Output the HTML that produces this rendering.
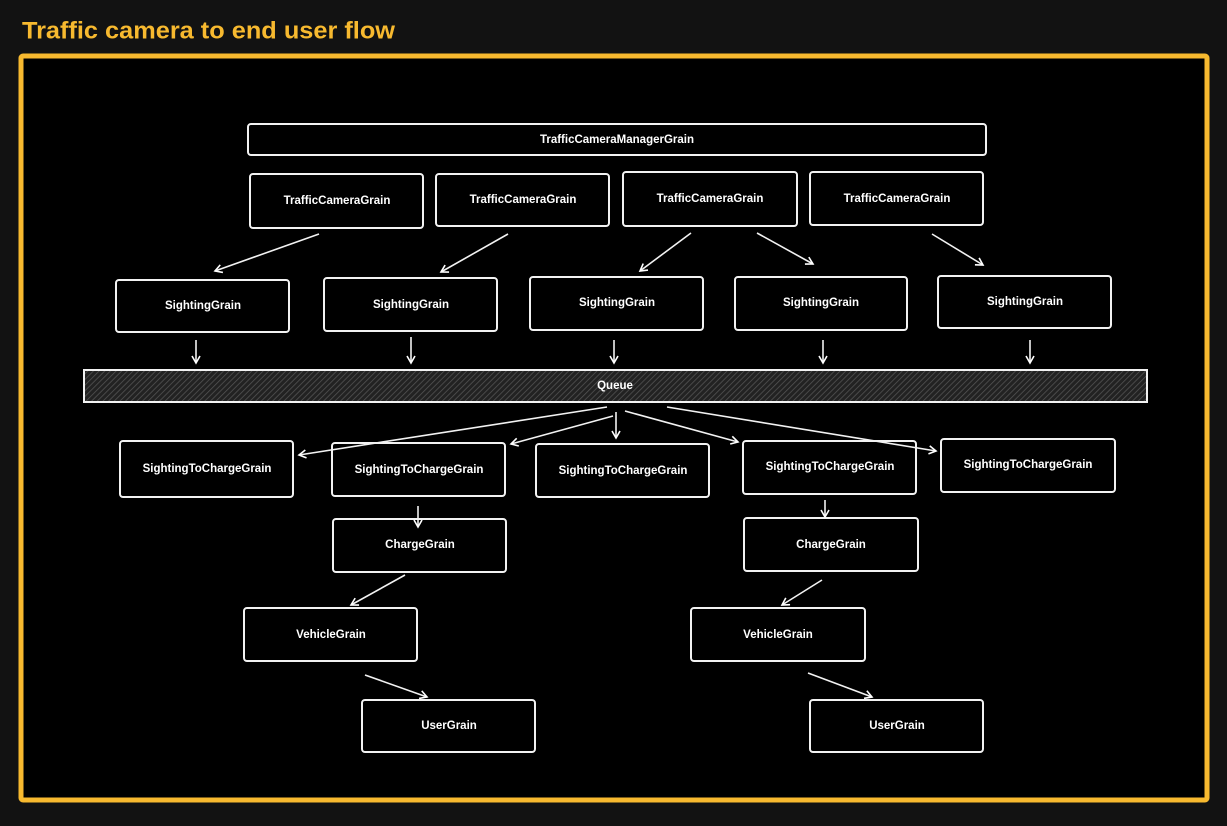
<!DOCTYPE html>
<html><head><meta charset="utf-8"><style>
html,body{margin:0;padding:0;background:#121212;width:1227px;height:826px;overflow:hidden}
svg text{font-family:"Liberation Sans",sans-serif;fill:#fff;font-size:11.5px;font-weight:bold;text-anchor:middle;dominant-baseline:central}
</style></head><body>
<svg width="1227" height="826" viewBox="0 0 1227 826" xmlns="http://www.w3.org/2000/svg">
<defs>
<pattern id="h" width="4" height="4" patternUnits="userSpaceOnUse" patternTransform="rotate(45)">
<rect width="4" height="4" fill="#222"/><line x1="0" y1="0" x2="0" y2="4" stroke="#555" stroke-width="1.5"/>
</pattern>
<marker id="a" markerWidth="10" markerHeight="10" refX="8" refY="5" orient="auto" markerUnits="userSpaceOnUse">
<path d="M1,1 L8,5 L1,9" fill="none" stroke="#fff" stroke-width="1.6"/>
</marker>
</defs>
<text x="22" y="31" textLength="373" lengthAdjust="spacingAndGlyphs" style="fill:#f7b92f;font-size:24px;text-anchor:start;font-weight:bold">Traffic camera to end user flow</text>
<rect x="21" y="56" width="1186" height="744" fill="#000" stroke="#f7b92f" stroke-width="5" rx="2"/>
<g fill="#000" stroke="#f2f2f2" stroke-width="2">
<rect x="248" y="124" width="738" height="31" rx="3"/>
<rect x="250" y="174" width="173" height="54" rx="3"/>
<rect x="436" y="174" width="173" height="52" rx="3"/>
<rect x="623" y="172" width="174" height="54" rx="3"/>
<rect x="810" y="172" width="173" height="53" rx="3"/>
<rect x="116" y="280" width="173" height="52" rx="3"/>
<rect x="324" y="278" width="173" height="53" rx="3"/>
<rect x="530" y="277" width="173" height="53" rx="3"/>
<rect x="735" y="277" width="172" height="53" rx="3"/>
<rect x="938" y="276" width="173" height="52" rx="3"/>
<rect x="84" y="370" width="1063" height="32" fill="url(#h)"/>
<rect x="120" y="441" width="173" height="56" rx="3"/>
<rect x="332" y="443" width="173" height="53" rx="3"/>
<rect x="536" y="444" width="173" height="53" rx="3"/>
<rect x="743" y="441" width="173" height="53" rx="3"/>
<rect x="941" y="439" width="174" height="53" rx="3"/>
<rect x="333" y="519" width="173" height="53" rx="3"/>
<rect x="744" y="518" width="174" height="53" rx="3"/>
<rect x="244" y="608" width="173" height="53" rx="3"/>
<rect x="691" y="608" width="174" height="53" rx="3"/>
<rect x="362" y="700" width="173" height="52" rx="3"/>
<rect x="810" y="700" width="173" height="52" rx="3"/>
</g>
<g stroke="#f2f2f2" stroke-width="1.6" marker-end="url(#a)">
<line x1="319" y1="234" x2="215" y2="271"/>
<line x1="508" y1="234" x2="441" y2="272"/>
<line x1="691" y1="233" x2="640" y2="271"/>
<line x1="757" y1="233" x2="813" y2="264"/>
<line x1="932" y1="234" x2="983" y2="265"/>
<line x1="196" y1="340" x2="196" y2="363"/>
<line x1="411" y1="337" x2="411" y2="363"/>
<line x1="614" y1="340" x2="614" y2="363"/>
<line x1="823" y1="340" x2="823" y2="363"/>
<line x1="1030" y1="340" x2="1030" y2="363"/>
<line x1="607" y1="407" x2="299" y2="455"/>
<line x1="613" y1="416" x2="511" y2="444"/>
<line x1="616" y1="412" x2="616" y2="438"/>
<line x1="625" y1="411" x2="738" y2="442"/>
<line x1="667" y1="407" x2="936" y2="451"/>
<line x1="418" y1="506" x2="418" y2="527"/>
<line x1="825" y1="500" x2="825" y2="517"/>
<line x1="405" y1="575" x2="351" y2="605"/>
<line x1="822" y1="580" x2="782" y2="605"/>
<line x1="365" y1="675" x2="427" y2="697"/>
<line x1="808" y1="673" x2="872" y2="697"/>
</g>
<text x="617" y="140">TrafficCameraManagerGrain</text>
<text x="337" y="201">TrafficCameraGrain</text>
<text x="523" y="200">TrafficCameraGrain</text>
<text x="710" y="199">TrafficCameraGrain</text>
<text x="897" y="199">TrafficCameraGrain</text>
<text x="203" y="306">SightingGrain</text>
<text x="411" y="305">SightingGrain</text>
<text x="617" y="303">SightingGrain</text>
<text x="821" y="303">SightingGrain</text>
<text x="1025" y="302">SightingGrain</text>
<text x="615" y="386">Queue</text>
<text x="207" y="469">SightingToChargeGrain</text>
<text x="419" y="470">SightingToChargeGrain</text>
<text x="623" y="471">SightingToChargeGrain</text>
<text x="830" y="467">SightingToChargeGrain</text>
<text x="1028" y="465">SightingToChargeGrain</text>
<text x="420" y="545">ChargeGrain</text>
<text x="831" y="545">ChargeGrain</text>
<text x="331" y="635">VehicleGrain</text>
<text x="778" y="635">VehicleGrain</text>
<text x="449" y="726">UserGrain</text>
<text x="897" y="726">UserGrain</text>
</svg>
</body></html>
